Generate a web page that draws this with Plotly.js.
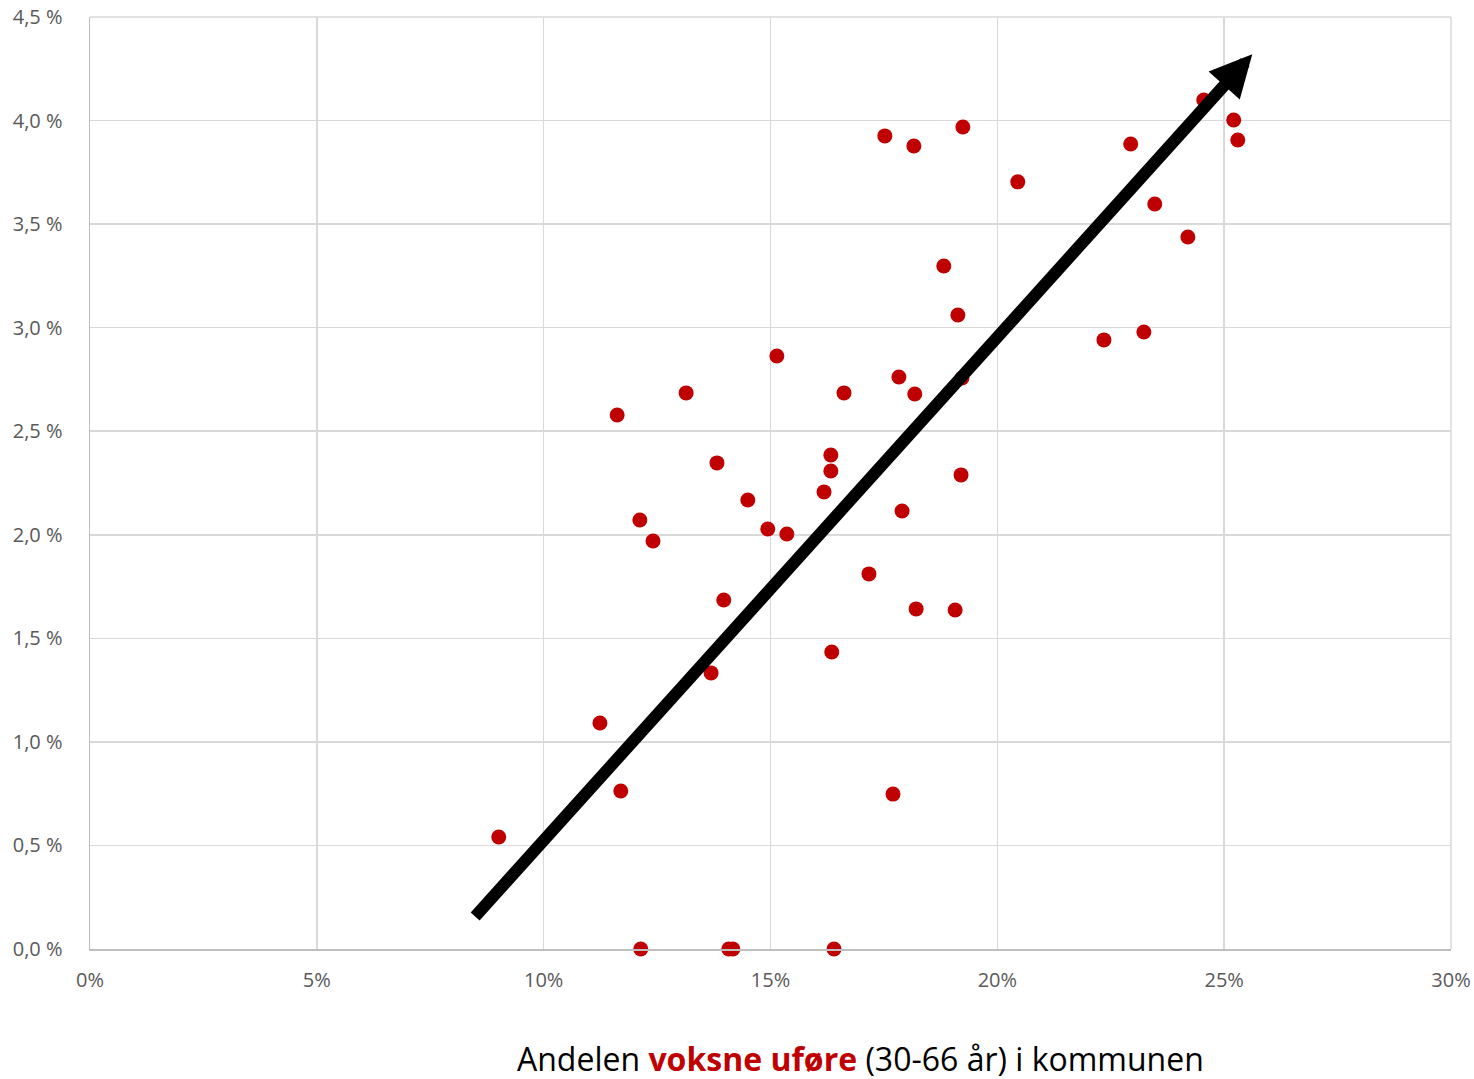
<!DOCTYPE html>
<html>
<head>
<meta charset="utf-8">
<script src="https://cdn.plot.ly/plotly-3.0.1.min.js"></script>
<style>html,body{margin:0;padding:0;background:#fff;}#chart{width:1474px;height:1079px;}</style>
</head>
<body>
<div id="chart"></div>
<script>
// Andel voksne uføre (30-66 år), prosent
const xValues = [9.01, 11.24, 11.70, 11.62, 12.12, 12.41, 12.14, 13.14, 13.82, 13.69,
  13.97, 14.08, 14.17, 14.50, 14.94, 15.36, 15.14, 16.18, 16.33, 16.33,
  16.35, 16.40, 16.62, 17.17, 17.52, 17.70, 17.83, 17.90, 18.16, 18.18,
  18.21, 18.82, 19.07, 19.13, 19.22, 19.20, 19.24, 20.45, 22.35, 22.94,
  23.23, 23.47, 24.20, 24.55, 25.21, 25.30];
// Verdi på y-aksen, prosent
const yValues = [0.541, 1.091, 0.763, 2.578, 2.071, 1.970, 0.0, 2.685, 2.347, 1.333,
  1.685, 0.0, 0.0, 2.168, 2.028, 2.004, 2.863, 2.207, 2.385, 2.308,
  1.434, 0.0, 2.685, 1.811, 3.926, 0.748, 2.762, 2.115, 3.877, 2.680,
  1.642, 3.298, 1.637, 3.061, 2.757, 2.289, 3.969, 3.704, 2.941, 3.887,
  2.979, 3.597, 3.438, 4.099, 4.003, 3.906];

const xTickVals = [0, 5, 10, 15, 20, 25, 30];
const xTickText = ["0%", "5%", "10%", "15%", "20%", "25%", "30%"];
const yTickVals = [0, 0.5, 1.0, 1.5, 2.0, 2.5, 3.0, 3.5, 4.0, 4.5];
const yTickText = ["0,0 %", "0,5 %", "1,0 %", "1,5 %", "2,0 %", "2,5 %", "3,0 %", "3,5 %", "4,0 %", "4,5 %"];

// Trendpil (start og slutt i dataenheter)
const arrowX = [8.46, 25.62];
const arrowY = [0.15, 4.32];

const tickFont = {family: "Open Sans, sans-serif", size: 20, color: "#595959"};

const trace = {
  type: "scatter",
  mode: "markers",
  x: xValues,
  y: yValues,
  marker: {color: "#C00000", size: 15, line: {width: 0}},
  cliponaxis: false,
  hoverinfo: "x+y"
};

const layout = {
  width: 1474,
  height: 1079,
  paper_bgcolor: "#ffffff",
  plot_bgcolor: "#ffffff",
  margin: {l: 90, r: 23, t: 17, b: 130},
  showlegend: false,
  xaxis: {
    range: [0, 30],
    tickvals: xTickVals,
    ticktext: xTickText,
    tickfont: tickFont,
    showgrid: true,
    gridcolor: "#d9d9d9",
    gridwidth: 1.5,
    zeroline: false,
    showline: true,
    linecolor: "#bfbfbf",
    linewidth: 1.5,
    mirror: false,
    ticks: "",
    ticklabelstandoff: 12,
    fixedrange: true
  },
  yaxis: {
    range: [0, 4.5],
    tickvals: yTickVals,
    ticktext: yTickText,
    tickfont: tickFont,
    showgrid: true,
    gridcolor: "#d9d9d9",
    gridwidth: 1.5,
    zeroline: false,
    showline: true,
    linecolor: "#bfbfbf",
    linewidth: 1.5,
    ticks: "",
    ticklabelstandoff: 22,
    fixedrange: true
  },
  shapes: [
    {type: "line", xref: "paper", yref: "paper", x0: 1, x1: 1, y0: 0, y1: 1, line: {color: "#d9d9d9", width: 1.5}},
    {type: "line", xref: "paper", yref: "paper", x0: 0, x1: 1, y0: 1, y1: 1, line: {color: "#d9d9d9", width: 1.5}}
  ],
  annotations: [
    {
      x: arrowX[1], y: arrowY[1], xref: "x", yref: "y",
      ax: arrowX[0], ay: arrowY[0], axref: "x", ayref: "y",
      showarrow: true, arrowhead: 2, arrowsize: 0.7, arrowwidth: 12,
      arrowcolor: "#000000", text: ""
    },
    {
      xref: "paper", yref: "paper",
      x: (860 - 90) / 1361, y: -(1058 - 949) / 932,
      xanchor: "center", yanchor: "middle",
      showarrow: false,
      text: "Andelen <b><span style=\"color:#C00000\">voksne uføre</span></b> (30-66 år) i kommunen",
      font: {family: "Open Sans, sans-serif", size: 32, color: "#000000"}
    }
  ]
};

Plotly.newPlot("chart", [trace], layout, {displayModeBar: false, staticPlot: true});
</script>
</body>
</html>
